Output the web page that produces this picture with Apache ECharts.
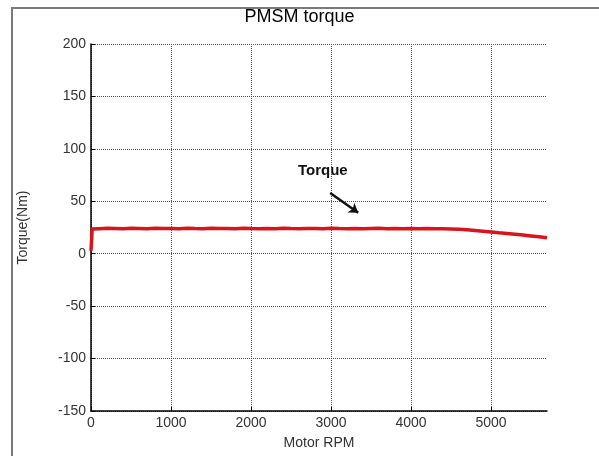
<!DOCTYPE html>
<html>
<head>
<meta charset="utf-8">
<script src="https://cdn.jsdelivr.net/npm/echarts@6/dist/echarts.min.js"></script>
<style>
  html, body { margin: 0; padding: 0; background: #fff; }
  #chart { width: 599px; height: 456px; }
</style>
</head>
<body>
<div id="chart"></div>
<script>
// motor speed (rpm) and measured torque (Nm)
const rpm = [0, 15, 40, 100, 200, 300, 400, 500, 600, 700, 800, 900, 1000, 1100, 1200, 1300, 1400, 1500,
  1600, 1700, 1800, 1900, 2000, 2100, 2200, 2300, 2400, 2500, 2600, 2700, 2800, 2900, 3000, 3100, 3200,
  3300, 3400, 3500, 3600, 3700, 3800, 3900, 4000, 4100, 4200, 4300, 4400, 4500, 4600, 4700, 4800, 4900,
  5000, 5100, 5200, 5300, 5400, 5500, 5600, 5700]
const torque = [3, 23.6, 24.3, 23.9, 24.2, 24.0, 23.8, 24.3, 24.1, 23.9, 24.2, 24.0, 24.1, 23.8, 24.2, 24.0,
  23.9, 24.3, 24.0, 24.1, 23.8, 24.2, 24.0, 23.9, 24.1, 23.8, 24.2, 24.0, 23.9, 24.1, 24.0, 23.8, 24.2,
  24.0, 23.9, 24.1, 23.8, 24.0, 24.2, 23.9, 24.0, 23.8, 24.1, 23.9, 24.0, 23.8, 23.9, 23.6, 23.3, 22.8,
  22.2, 21.5, 20.8, 20.0, 19.3, 18.6, 17.8, 17.0, 16.2, 15.3]
// annotation arrow: from -> to (rpm, Nm)
const arrowFrom = [2990, 58]
const arrowTo = [3340, 39]

const font = 'Liberation Sans, Arial, sans-serif'
const chart = echarts.init(document.getElementById('chart'))

chart.setOption({
  backgroundColor: '#fff',
  animation: false,
  title: {
    text: 'PMSM torque',
    left: 'center',
    top: 3,
    textStyle: { fontFamily: font, fontSize: 18, fontWeight: 'normal', color: '#000' }
  },
  grid: { left: 91, right: 52, top: 44, bottom: 45 },
  xAxis: {
    type: 'value',
    min: 0,
    max: 5700,
    interval: 1000,
    name: 'Motor RPM',
    nameLocation: 'middle',
    nameGap: 25,
    nameTextStyle: { fontFamily: font, fontSize: 14, color: '#333' },
    axisLine: { onZero: false, lineStyle: { color: '#000', width: 1.5 } },
    axisTick: { inside: true, length: 4, lineStyle: { color: '#000' } },
    axisLabel: {
      fontFamily: font, fontSize: 14, color: '#333', margin: 5, showMaxLabel: false,
      formatter: v => String(v)
    },
    splitLine: { show: true, showMaxLine: false, lineStyle: { type: 'dotted', color: '#555', width: 1 } }
  },
  yAxis: {
    type: 'value',
    min: -150,
    max: 200,
    interval: 50,
    name: 'Torque(Nm)',
    nameLocation: 'middle',
    nameGap: 61,
    nameTextStyle: { fontFamily: font, fontSize: 14, color: '#333' },
    axisLine: { show: true, onZero: false, lineStyle: { color: '#000', width: 1.5 } },
    axisTick: { show: true, inside: true, length: 4, lineStyle: { color: '#000' } },
    axisLabel: { fontFamily: font, fontSize: 14, color: '#333', margin: 5 },
    splitLine: { show: true, lineStyle: { type: 'dotted', color: '#555', width: 1 } }
  },
  graphic: [
    {
      type: 'polyline',
      shape: { points: [[12, 456], [12, 8], [599, 8]] },
      style: { stroke: '#7a7a7a', lineWidth: 2, fill: null }
    },
    {
      type: 'text',
      left: 298,
      top: 163,
      style: { text: 'Torque', font: 'bold 15px ' + font, fill: '#111' }
    }
  ],
  series: [
    {
      type: 'line',
      data: rpm.map((r, i) => [r, torque[i]]),
      showSymbol: false,
      lineStyle: { color: '#d8141c', width: 3.5 },
      markLine: {
        silent: true,
        symbol: ['none', 'arrow'],
        symbolSize: 9,
        label: { show: false },
        lineStyle: { color: '#111', width: 2.5, type: 'solid' },
        data: [[{ coord: arrowFrom }, { coord: arrowTo }]]
      }
    }
  ]
})
</script>
</body>
</html>
